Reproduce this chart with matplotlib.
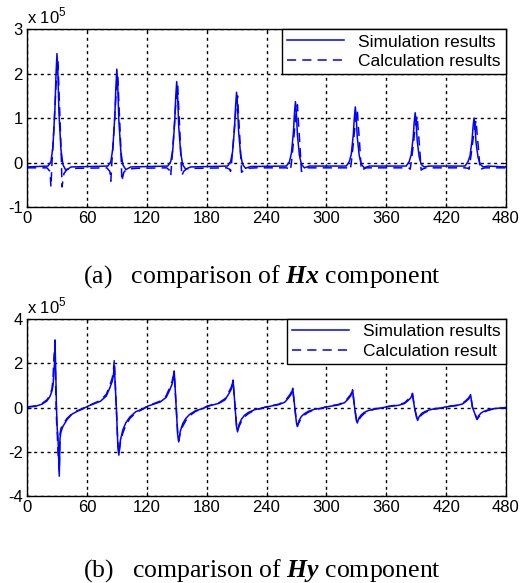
import matplotlib
matplotlib.use("Agg")
import matplotlib.pyplot as plt

plt.rcParams["font.family"] = ["Liberation Sans", "DejaVu Sans"]
plt.rcParams["axes.unicode_minus"] = False
plt.rcParams["mathtext.fontset"] = "custom"
plt.rcParams["mathtext.rm"] = "Liberation Sans"
plt.rcParams["mathtext.bf"] = "Liberation Serif:bold:italic"

# values in units of 1e5
hx_sim_x = [0, 10,
            21, 24, 26, 28, 29, 30, 31, 32, 34, 36, 39, 44,
            81, 84, 86, 88, 89, 90, 91, 92, 94, 96, 99, 104,
            141, 144, 146, 148, 149, 150, 151, 152, 154, 156, 159, 164,
            201, 204, 206, 208, 209, 210, 211, 212, 214, 216, 219, 224,
            260, 263, 265, 267, 268, 269, 270, 271, 273, 275, 278, 283,
            320, 323, 325, 327, 328, 329, 330, 331, 333, 335, 338, 343,
            380, 383, 385, 387, 388, 389, 390, 391, 393, 395, 398, 403,
            439, 442, 444, 446, 447, 448, 449, 450, 452, 454, 457, 462,
            480]
hx_sim = [-0.1, -0.09,
          -0.08, 0.02, 0.37, 1.23, 1.96, 2.45, 1.96, 1.1, 0.29, -0.05, -0.18, -0.1,
          -0.08, 0.02, 0.32, 1.05, 1.68, 2.1, 1.68, 0.95, 0.25, -0.05, -0.16, -0.1,
          -0.08, 0.02, 0.27, 0.91, 1.46, 1.82, 1.46, 0.82, 0.22, -0.05, -0.15, -0.1,
          -0.08, 0.02, 0.24, 0.79, 1.26, 1.58, 1.26, 0.71, 0.19, -0.04, -0.13, -0.09,
          -0.08, 0.02, 0.21, 0.69, 1.1, 1.37, 1.1, 0.62, 0.16, -0.04, -0.12, -0.08,
          -0.08, 0.02, 0.19, 0.63, 1.0, 1.25, 1.0, 0.56, 0.15, -0.04, -0.12, -0.08,
          -0.08, 0.02, 0.17, 0.56, 0.9, 1.12, 0.9, 0.5, 0.13, -0.04, -0.1, -0.08,
          -0.08, 0.02, 0.15, 0.5, 0.8, 1.0, 0.8, 0.45, 0.12, -0.03, -0.1, -0.08,
          -0.1]

hx_calc_x = [0, 10,
             20, 23, 24, 25, 27, 29, 31, 32, 33.5, 34.5, 35, 37, 40, 50,
             80, 83, 84, 85, 87, 89, 91, 92, 93.5, 94.5, 95, 97, 100, 110,
             140, 143, 144, 145, 147, 149, 151, 152, 153.5, 154.5, 155, 157, 160, 170,
             200, 203, 204, 205, 207, 209, 211, 212, 213.5, 214.5, 215, 217, 220, 230,
             260, 263, 264, 265, 267, 269, 271, 272, 273.5, 274.5, 275, 277, 280, 290,
             320, 323, 324, 325, 327, 329, 331, 332, 333.5, 334.5, 335, 337, 340, 350,
             380, 383, 384, 385, 387, 389, 391, 392, 393.5, 394.5, 395, 397, 400, 410,
             439, 442, 443, 444, 446, 448, 450, 451, 452.5, 453.5, 454, 456, 459,
             480]
hx_calc = [-0.12, -0.12,
           -0.12, -0.2, -0.55, 0.0, 0.8, 1.73, 2.3, 1.61, 0.69, 0.0, -0.55, -0.25, -0.15, -0.13,
           -0.12, -0.2, -0.42, 0.0, 0.68, 1.46, 1.95, 1.37, 0.59, 0.0, -0.42, -0.22, -0.15, -0.13,
           -0.12, -0.18, -0.3, 0.0, 0.61, 1.31, 1.75, 1.23, 0.53, 0.0, -0.3, -0.2, -0.14, -0.13,
           -0.12, -0.15, -0.2, 0.0, 0.53, 1.13, 1.5, 1.05, 0.45, 0.0, -0.22, -0.18, -0.13, -0.12,
           -0.12, -0.14, -0.18, 0.0, 0.46, 0.98, 1.3, 0.91, 0.39, 0.0, -0.2, -0.16, -0.12, -0.12,
           -0.12, -0.13, -0.16, 0.0, 0.42, 0.9, 1.2, 0.84, 0.36, 0.0, -0.18, -0.15, -0.12, -0.12,
           -0.12, -0.13, -0.15, 0.0, 0.37, 0.79, 1.05, 0.74, 0.32, 0.0, -0.17, -0.14, -0.12, -0.12,
           -0.12, -0.13, -0.15, 0.0, 0.33, 0.71, 0.95, 0.67, 0.29, 0.0, -0.17, -0.14, -0.12,
           -0.12]

hy_x = [0, 8, 15, 20, 23, 25, 26, 27, 27.5, 28, 28.7, 29.5, 30.3, 31, 32.3, 33, 34, 36, 40, 45, 50, 55,
        61.5, 73.5, 79.5, 83, 85.5, 86.5, 87.5, 88.5, 89.5, 91, 92, 93.5, 96, 99, 103, 109, 116,
        121.5, 133.5, 139.5, 143, 145.5, 146.5, 147.5, 148.5, 149.5, 151, 152, 153.5, 156, 159, 163, 169, 176,
        180.5, 192.5, 198.5, 202, 204.5, 205.5, 206.5, 207.5, 208.5, 210, 211, 212.5, 215, 218, 222, 228, 235,
        240.3, 252.3, 258.3, 261.8, 264.3, 265.3, 266.3, 267.3, 268.3, 270, 271, 272.5, 275, 278, 282, 288, 295,
        300.3, 312.3, 318.3, 321.8, 324.3, 325.3, 326.3, 327.3, 328.3, 330, 331, 332.5, 335, 338, 342, 348, 355,
        360.3, 372.3, 378.3, 381.8, 384.3, 385.3, 386.3, 387.3, 388.3, 390.5, 391.5, 393, 395.5, 398.5, 402.5, 408.5, 415.5,
        418.5, 430.5, 436.5, 440, 442.5, 443.5, 444.5, 445.5, 446.5, 450, 451, 452.5, 455, 458, 462, 468, 475, 480]
hy_sim = [0.02, 0.05, 0.15, 0.3, 0.5, 0.75, 1.0, 1.6, 2.0, 3.05, 1.8, 0.0, -1.0, -1.3, -3.1, -1.4, -1.1, -0.85, -0.55, -0.3, -0.18, -0.08,
          0.07, 0.28, 0.52, 0.89, 1.2, 1.44, 1.85, 0.93, 0.0, -1.72, -2.15, -1.5, -1.01, -0.69, -0.43, -0.19, -0.06,
          0.07, 0.25, 0.46, 0.79, 1.07, 1.29, 1.65, 0.83, 0.0, -1.24, -1.55, -1.09, -0.73, -0.5, -0.31, -0.14, -0.05,
          0.05, 0.19, 0.35, 0.6, 0.81, 0.97, 1.24, 0.62, 0.0, -0.88, -1.1, -0.77, -0.52, -0.35, -0.22, -0.1, -0.03,
          0.03, 0.13, 0.24, 0.42, 0.57, 0.68, 0.87, 0.44, 0.0, -0.69, -0.86, -0.6, -0.4, -0.28, -0.17, -0.08, -0.03,
          0.03, 0.12, 0.22, 0.38, 0.52, 0.62, 0.8, 0.4, 0.0, -0.56, -0.7, -0.49, -0.33, -0.22, -0.14, -0.06, -0.02,
          0.03, 0.1, 0.18, 0.31, 0.42, 0.5, 0.64, 0.32, 0.0, -0.46, -0.58, -0.41, -0.27, -0.19, -0.12, -0.05, -0.02,
          0.02, 0.09, 0.16, 0.28, 0.38, 0.45, 0.58, 0.29, 0.0, -0.43, -0.54, -0.38, -0.25, -0.17, -0.11, -0.05, -0.02, 0.0]
hy_calc = [0.03, 0.07, 0.18, 0.35, 0.55, 0.85, 1.3, 2.3, 2.6, 2.9, 1.0, -0.5, -1.2, -2.0, -2.9, -1.2, -0.95, -0.75, -0.5, -0.28, -0.15, -0.06,
           0.08, 0.32, 0.6, 1.0, 1.35, 1.65, 2.15, 1.0, 0.0, -1.6, -2.1, -1.6, -1.15, -0.8, -0.5, -0.23, -0.08,
           0.08, 0.29, 0.53, 0.9, 1.2, 1.4, 1.55, 0.78, 0.0, -1.15, -1.5, -1.15, -0.85, -0.6, -0.37, -0.17, -0.06,
           0.06, 0.22, 0.4, 0.68, 0.9, 1.02, 1.15, 0.58, 0.0, -0.8, -1.05, -0.85, -0.62, -0.42, -0.27, -0.12, -0.04,
           0.04, 0.15, 0.28, 0.48, 0.64, 0.74, 0.82, 0.41, 0.0, -0.62, -0.82, -0.68, -0.48, -0.34, -0.21, -0.1, -0.04,
           0.04, 0.14, 0.26, 0.44, 0.58, 0.67, 0.75, 0.38, 0.0, -0.5, -0.66, -0.55, -0.4, -0.27, -0.17, -0.08, -0.03,
           0.04, 0.12, 0.21, 0.36, 0.47, 0.54, 0.6, 0.3, 0.0, -0.42, -0.55, -0.46, -0.33, -0.23, -0.15, -0.07, -0.03,
           0.03, 0.1, 0.19, 0.32, 0.43, 0.5, 0.55, 0.28, 0.0, -0.4, -0.52, -0.44, -0.31, -0.21, -0.13, -0.06, -0.03, 0.0]

x_ticks = [0, 60, 120, 180, 240, 300, 360, 420, 480]
hx_ticks = [-1, 0, 1, 2, 3]
hy_ticks = [-4, -2, 0, 2, 4]


def style_axes(ax, yticks):
    ax.set_xlim(0, 480)
    ax.set_ylim(yticks[0], yticks[-1])
    ax.set_xticks(x_ticks)
    ax.set_yticks(yticks)
    ax.grid(True, color="black", linestyle=(0, (2.2, 2.6)), linewidth=1.0)
    ax.tick_params(direction="in", length=3, labelsize=12, pad=3,
                   top=True, right=True)
    for s in ax.spines.values():
        s.set_linewidth(1.0)
    ax.text(0.0, 1.015, r"x 10$^5$", transform=ax.transAxes, fontsize=12,
            ha="left", va="bottom")


def add_legend(ax):
    leg = ax.legend(loc="upper right", fontsize=12.5, frameon=True, fancybox=False,
                    edgecolor="black", framealpha=1, borderaxespad=0,
                    handlelength=3.3, labelspacing=0.25, borderpad=0.3)
    leg.get_frame().set_linewidth(1.0)


fig = plt.figure(figsize=(5.2, 5.83), dpi=100)

ax1 = fig.add_axes([0.052, 0.645, 0.921, 0.305])
ax1.plot(hx_sim_x, hx_sim, color="#0000ff", lw=1.1, label="Simulation results")
ax1.plot(hx_calc_x, hx_calc, color="#0000ff", lw=1.1, dashes=(6, 4),
         label="Calculation results")
style_axes(ax1, hx_ticks)
add_legend(ax1)

ax2 = fig.add_axes([0.052, 0.149, 0.921, 0.304])
ax2.plot(hy_x, hy_sim, color="#0000ff", lw=1.1, label="Simulation results")
ax2.plot(hy_x, hy_calc, color="#0000ff", lw=1.1, dashes=(6, 4),
         label="Calculation result")
style_axes(ax2, hy_ticks)
add_legend(ax2)

fig.text(0.504, 0.525, r"(a)   comparison of $\mathbf{Hx}$ component",
         family="Liberation Serif", fontsize=18.5, ha="center", va="center")
fig.text(0.504, 0.022, r"(b)   comparison of $\mathbf{Hy}$ component",
         family="Liberation Serif", fontsize=18.5, ha="center", va="center")

fig.savefig("out.png", dpi=100)
